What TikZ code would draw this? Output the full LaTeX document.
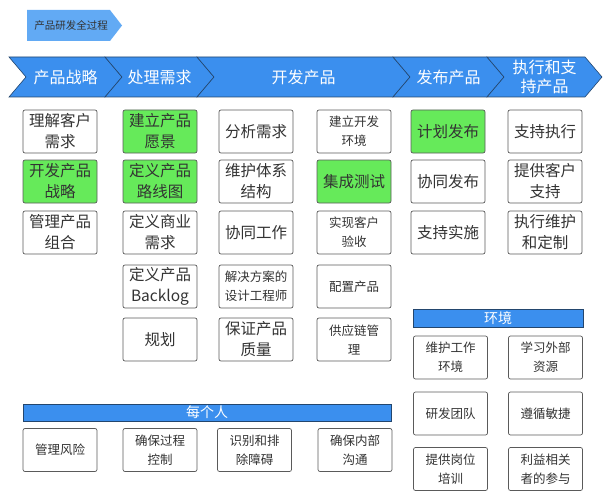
\documentclass[tikz,border=0pt]{standalone}
\usepackage{fontspec}
\setmainfont{Noto Sans CJK SC}
\newfontfamily\cjk{Noto Sans CJK SC}
\definecolor{bandblue}{HTML}{3B8FEE}
\definecolor{titleblue}{HTML}{62AAF4}
\definecolor{edgenavy}{HTML}{23466E}
\definecolor{boxgreen}{HTML}{66EA5A}
\definecolor{txtgray}{HTML}{333333}
\definecolor{boxedge}{HTML}{5A5A5A}
\begin{document}
\begin{tikzpicture}[x=1pt,y=-1pt,
  chev/.style={fill=bandblue,draw=edgenavy,line width=0.6pt},
  chevtext/.style={text=white,font=\cjk\fontsize{16}{19}\selectfont,align=center,inner sep=0pt},
  card/.style={draw=boxedge,line width=0.7pt,rounded corners=2pt,fill=white,
     minimum width=74pt,minimum height=43pt,inner sep=1pt,align=center,
     text=txtgray,font=\cjk\fontsize{15.5}{21}\selectfont},
  smallcard/.style={card,font=\cjk\fontsize{12.5}{19}\selectfont},
  green/.style={fill=boxgreen},
  bar/.style={draw=edgenavy,line width=0.5pt,fill=bandblue,inner sep=0pt,
     text=white,font=\cjk\fontsize{14}{16}\selectfont}
]
\useasboundingbox (0,0) rectangle (610,500);

% title arrow
\fill[titleblue] (27,10) -- (110,10) -- (122,25.5) -- (110,41) -- (27,41) -- cycle;
\node[text=txtgray,font=\cjk\fontsize{10.5}{12}\selectfont,inner sep=0pt] (title) at (71,25.5) {产品研发全过程};

% chevron band
\foreach \L/\R/\n/\t in {9/105/c1/产品战略,105/197/c2/处理需求,197/393/c3/开发产品,393/487/c4/发布产品,487/585/c5/{执行和支\\持产品}}{
  \draw[chev] (\L,57) -- (\R,57) -- (\R+17,77) -- (\R,97) -- (\L,97) -- (\L+17,77) -- cycle;
  \node[chevtext] (\n) at ({(\L+\R)/2+8.5},77) {\t};
}

% column 1
\node[card] (a1) at (60,131.5) {理解客户\\需求};
\node[card,green] (a2) at (60,181.5) {开发产品\\战略};
\node[card] (a3) at (60,232.5) {管理产品\\组合};
% column 2
\node[card,green] (b1) at (160,131.5) {建立产品\\愿景};
\node[card,green] (b2) at (160,181.5) {定义产品\\路线图};
\node[card] (b3) at (160,232.5) {定义商业\\需求};
\node[card] (b4) at (160,286.5) {定义产品\\Backlog};
\node[card] (b5) at (160,339.5) {规划};
% column 3
\node[card] (d1) at (256,131.5) {分析需求};
\node[card] (d2) at (256,181.5) {维护体系\\结构};
\node[card] (d3) at (256,232.5) {协同工作};
\node[smallcard] (d4) at (256,286.5) {解决方案的\\设计工程师};
\node[card] (d5) at (256,339.5) {保证产品\\质量};
% column 4
\node[smallcard] (e1) at (354,131.5) {建立开发\\环境};
\node[card,green] (e2) at (354,181.5) {集成测试};
\node[smallcard] (e3) at (354,232.5) {实现客户\\验收};
\node[smallcard] (e4) at (354,286.5) {配置产品};
\node[smallcard] (e5) at (354,339.5) {供应链管\\理};
% column 5
\node[card,green] (f1) at (448,131.5) {计划发布};
\node[card] (f2) at (448,181.5) {协同发布};
\node[card] (f3) at (448,232.5) {支持实施};
% column 6
\node[card] (g1) at (545,131.5) {支持执行};
\node[card] (g2) at (545,181.5) {提供客户\\支持};
\node[card] (g3) at (545,232.5) {执行维护\\和定制};

% environment
\node[bar,minimum width=170pt,minimum height=18pt] (env) at (498,318) {环境};
\node[smallcard] (h1) at (450.5,357.5) {维护工作\\环境};
\node[smallcard] (h2) at (545.5,357.5) {学习外部\\资源};
\node[smallcard] (h3) at (450.5,413.5) {研发团队};
\node[smallcard] (h4) at (545.5,413.5) {遵循敏捷};
\node[smallcard] (h5) at (450.5,469) {提供岗位\\培训};
\node[smallcard] (h6) at (545.5,469) {利益相关\\者的参与};

% everyone
\node[bar,minimum width=368pt,minimum height=17pt] (every) at (207,412.5) {每个人};
\node[smallcard] (k1) at (60,450) {管理风险};
\node[smallcard] (k2) at (160,450) {确保过程\\控制};
\node[smallcard] (k3) at (254.5,450) {识别和排\\除障碍};
\node[smallcard] (k4) at (355,450) {确保内部\\沟通};
\end{tikzpicture}
\end{document}
